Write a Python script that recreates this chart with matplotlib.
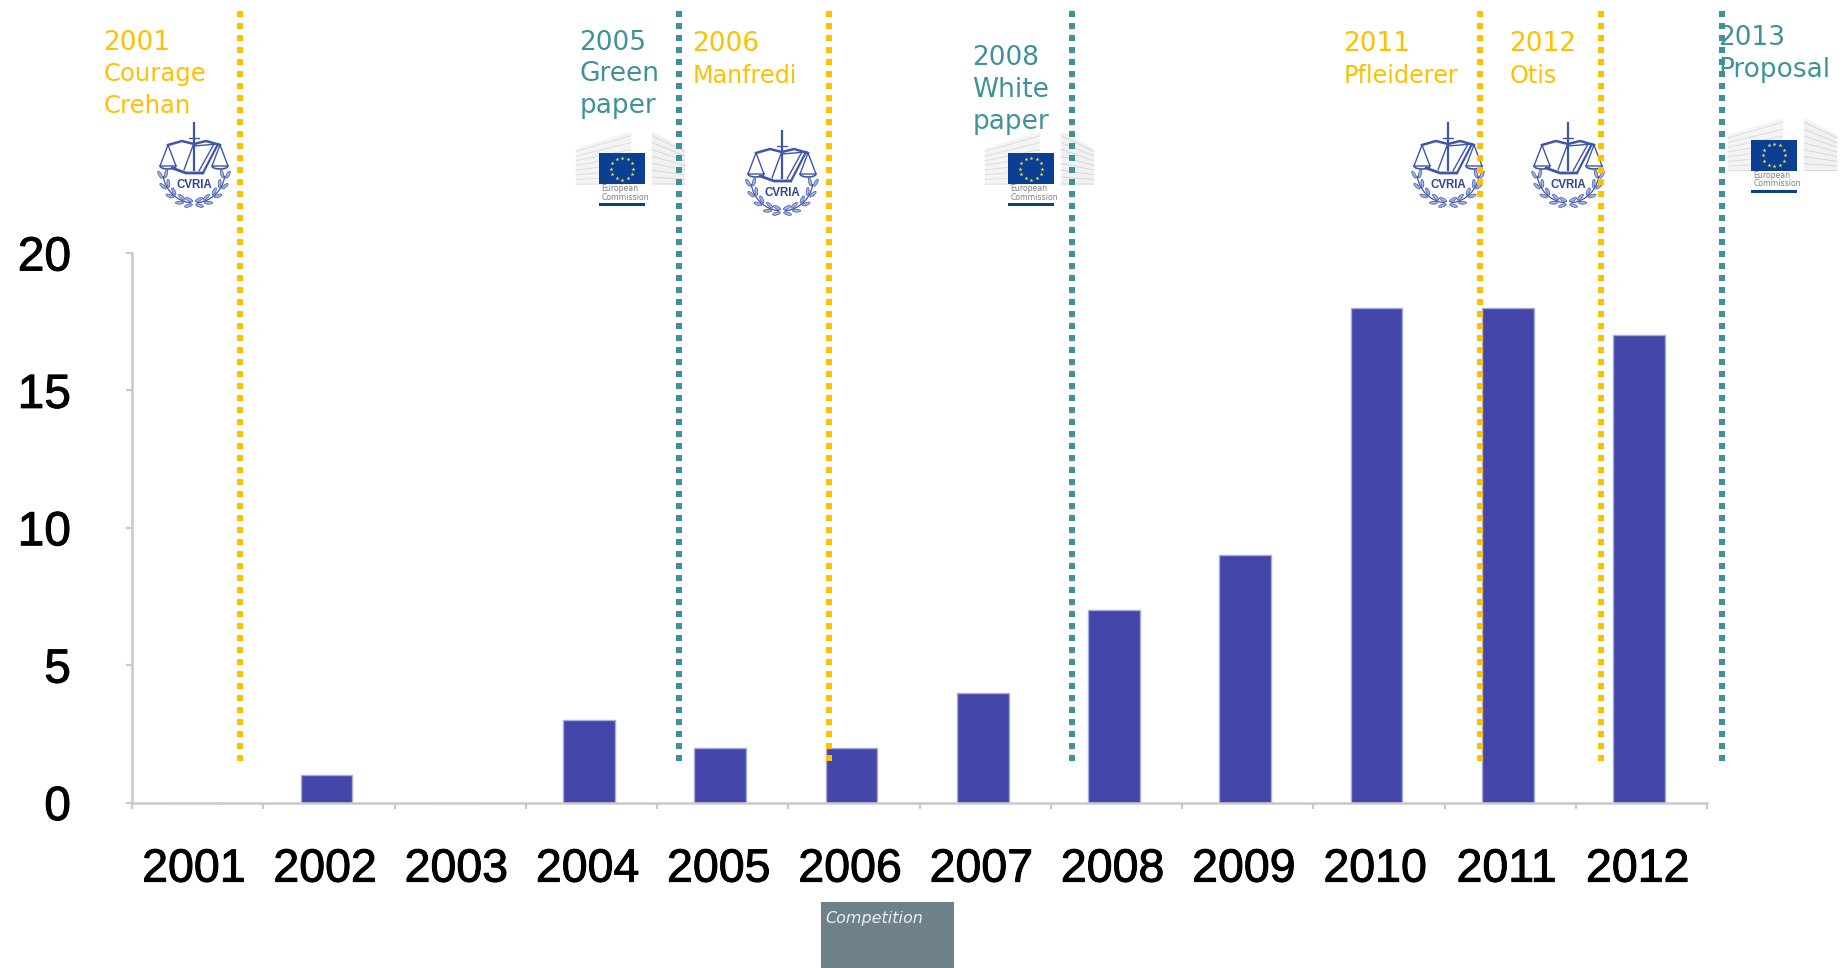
import numpy as np
import matplotlib
matplotlib.use("Agg")
import matplotlib.pyplot as plt
import matplotlib.patheffects as pe
from matplotlib.patches import Rectangle, Ellipse, Polygon

years = ["2001", "2002", "2003", "2004", "2005", "2006",
         "2007", "2008", "2009", "2010", "2011", "2012"]
counts = [0, 1, 0, 3, 2, 2, 4, 7, 9, 18, 18, 17]
y_ticks = [0, 5, 10, 15, 20]

YELLOW = "#FFC000"
TEAL = "#3F9299"
BAR = "#4346A8"
AXIS = "#C9C9C9"
LOGO_BLUE = "#3F56A8"

W, H = 1845, 968
fig = plt.figure(figsize=(W / 100, H / 100), dpi=100, facecolor="white")

# main chart
L, R, T, B = 132, 1707, 253, 802.5
ax = fig.add_axes([L / W, 1 - B / H, (R - L) / W, (B - T) / H])
x = np.arange(len(years))
ax.bar(x - 0.018, counts, width=0.395, color=BAR, edgecolor="#A9ABD8", linewidth=1.0, zorder=2)
ax.set_xlim(-0.5, len(years) - 0.5)
ax.set_ylim(0, 20)
for s in ("top", "right"):
    ax.spines[s].set_visible(False)
for s in ("left", "bottom"):
    ax.spines[s].set_color(AXIS)
    ax.spines[s].set_linewidth(1.8)
stroke = [pe.withStroke(linewidth=0.7, foreground="black")]
ax.set_yticks(y_ticks)
ax.set_yticklabels([str(v) for v in y_ticks], fontsize=34.5, family="Liberation Sans", color="black",
                   path_effects=stroke)
ax.tick_params(axis="y", length=4, width=1.6, color=AXIS, pad=40)
ax.set_xticks(x - 0.028)
ax.set_xticklabels(years, fontsize=33.5, family="Liberation Sans", color="black", path_effects=stroke)
ax.set_xticks(np.arange(-0.5, len(years)), minor=True)
ax.tick_params(axis="x", which="major", length=0, pad=32.5)
ax.tick_params(axis="x", which="minor", length=4, width=1.6, color=AXIS)

# overlay in pixel coordinates
ov = fig.add_axes([0, 0, 1, 1], facecolor="none")
ov.set_xlim(0, W)
ov.set_ylim(H, 0)
ov.axis("off")


def curia(cx, cy):
    c = LOGO_BLUE
    k = dict(color=c, lw=1.0, solid_capstyle="round")
    # sword
    ov.plot([cx, cx], [cy - 42, cy + 5], color=c, lw=1.6)
    ov.plot([cx - 5, cx + 5], [cy - 27, cy - 27], **k)
    # beam
    ov.plot([cx - 26, cx - 12, cx, cx + 12, cx + 26],
            [cy - 20, cy - 24, cy - 21, cy - 24, cy - 20], color=c, lw=1.8)
    # pans
    for sx in (-1, 1):
        px = cx + sx * 26
        ov.plot([px, px - 8, px + 8, px], [cy - 20, cy + 1, cy + 1, cy - 20], **k)
        t = np.linspace(0, np.pi, 14)
        ov.plot(px + 8 * np.cos(t), cy + 1 + 3 * np.sin(t), color=c, lw=1.2)
    # book
    ov.plot([cx - 10, cx], [cy + 5, cy - 22], **k)
    ov.plot([cx + 24, cx + 9], [cy - 21, cy + 8], color=c, lw=1.6)
    ov.plot([cx + 20, cx + 5], [cy - 21, cy + 6], **k)
    ov.plot([cx, cx + 24], [cy - 19, cy - 21], **k)
    ov.plot([cx - 22, cx - 8, cx + 9], [cy + 3, cy + 8, cy + 8], color=c, lw=2.0, solid_capstyle="round")
    # wreath
    for sx in (-1, 1):
        t = np.radians(np.array([8, 28, 48, 68, 84]))
        wx = cx + sx * 31 * np.cos(t)
        wy = cy + 7 + 31 * np.sin(t)
        ov.plot(cx + sx * 31 * np.cos(np.linspace(t[0], t[-1], 20)),
                cy + 7 + 31 * np.sin(np.linspace(t[0], t[-1], 20)), color=c, lw=0.9)
        for a, b, tt in zip(wx, wy, t):
            nx, ny = sx * np.cos(tt), np.sin(tt)
            tx, ty = sx * np.sin(tt), -np.cos(tt)
            ang = np.degrees(np.arctan2(ty, tx))
            for off, tilt in ((3.0, 22 * sx), (-3.0, -22 * sx)):
                ov.add_patch(Ellipse((a + off * nx + 2 * tx, b + off * ny + 2 * ty), 8, 2.8,
                                     angle=ang + tilt, fc="#A7B4DC", ec=c, lw=0.5))
    ov.text(cx, cy + 20, "CVRIA", color="#2F458F", fontsize=8.3, ha="center", va="center",
            family="Liberation Sans", fontweight="bold", zorder=4)


def commission(cx, cy):
    # cx, cy: flag centre
    fw, fh = 46, 31
    ov.add_patch(Polygon([(cx - 46, cy - 20), (cx + 9, cy - 37), (cx + 9, cy + 16), (cx - 46, cy + 16)],
                         fc="#F4F4F4", ec="none", zorder=1))
    ov.add_patch(Polygon([(cx + 30, cy - 37), (cx + 63, cy - 20), (cx + 63, cy + 16), (cx + 30, cy + 16)],
                         fc="#F1F1F1", ec="none", zorder=1))
    for f in np.arange(0.08, 1.0, 0.13):
        ov.plot([cx - 46, cx + 9], [cy - 20 + f * 36, cy - 37 + f * 53], color="#DADADA", lw=0.6, zorder=1)
        ov.plot([cx + 30, cx + 63], [cy - 37 + f * 53, cy - 20 + f * 36], color="#D4D4D4", lw=0.6, zorder=1)
    ov.add_patch(Rectangle((cx - fw / 2, cy - fh / 2), fw, fh, fc="#0B3F94", ec="none", zorder=3))
    a = np.arange(12) * np.pi / 6
    ov.scatter(cx + 11 * np.cos(a), cy + 11 * np.sin(a), s=9, marker="*", color="#E8E83A",
               linewidths=0, zorder=4)
    ov.text(cx - 20.5, cy + 24.5, "European\nCommission", fontsize=5.6, color="#808080", va="center",
            ha="left", linespacing=0.95, zorder=4)
    ov.add_patch(Rectangle((cx - fw / 2, cy + 34.5), fw, 3, fc="#0B3F94", ec="none", zorder=3))


curia_positions = [(194, 165), (782, 173), (1448, 165), (1568, 165)]
commission_positions = [(622, 168.5), (1031, 168.5), (1774, 155)]
for p in curia_positions:
    curia(*p)
for p in commission_positions:
    commission(*p)

# event lines
event_lines = [(239.5, YELLOW), (678.5, TEAL), (829, YELLOW), (1071.5, TEAL),
               (1480, YELLOW), (1600.5, YELLOW), (1722, TEAL)]
for xp, col in event_lines:
    ov.plot([xp, xp], [11, 762], color=col, lw=4.32, zorder=6,
            linestyle=(0, (1.0, 1.0)), dash_capstyle="butt")

# event labels: text, x, baseline, size, colour
labels = [
    ("2001", 103.5, 50, 19, YELLOW), ("Courage", 103.5, 81, 17.5, YELLOW), ("Crehan", 103.5, 113, 17.5, YELLOW),
    ("2005", 579.5, 50, 19, TEAL), ("Green", 579.5, 81, 19, TEAL), ("paper", 579.5, 113, 19, TEAL),
    ("2006", 692.5, 51, 19, YELLOW), ("Manfredi", 692.5, 83, 17.2, YELLOW),
    ("2008", 972.5, 65, 19, TEAL), ("White", 972.5, 97, 19, TEAL), ("paper", 972.5, 129, 19, TEAL),
    ("2011", 1343.5, 51, 19, YELLOW), ("Pfleiderer", 1343.5, 83, 17.2, YELLOW),
    ("2012", 1509.5, 51, 19, YELLOW), ("Otis", 1509.5, 83, 17.2, YELLOW),
    ("2013", 1718, 45, 19, TEAL), ("Proposal", 1718, 77, 19, TEAL),
]
for s, xp, yp, fs, col in labels:
    ov.text(xp, yp, s, color=col, fontsize=fs, ha="left", va="baseline", zorder=7,
            family="DejaVu Sans")

# footer tab
ov.add_patch(Rectangle((821, 902), 133, 66, fc="#6E808A", ec="none"))
ov.text(825, 918, "Competition", color="#EAF0F2", fontsize=11.5, style="italic", va="center", ha="left")

fig.savefig("out.png", dpi=100, facecolor="white")
